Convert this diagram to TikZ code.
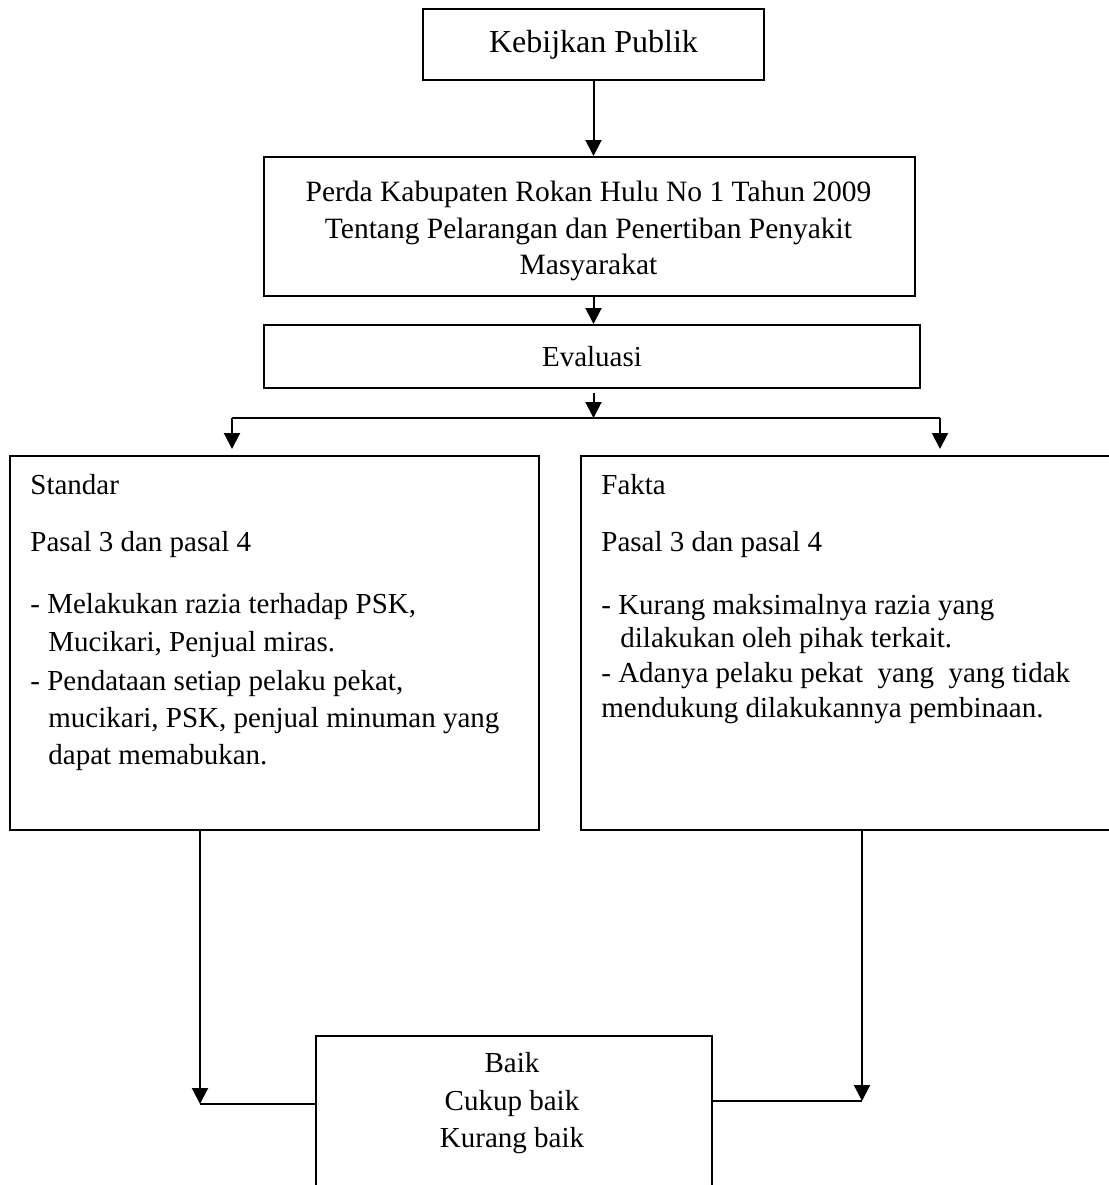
\documentclass[tikz,border=0pt]{standalone}
\usepackage{fontspec}
\setmainfont{Liberation Serif}
\usetikzlibrary{arrows.meta}
\begin{document}
\begin{tikzpicture}[x=0.5pt,y=-0.5pt,
  box/.style={draw, line width=1pt, inner sep=0pt, anchor=north west},
  txt/.style={font=\fontsize{14.5}{18}\selectfont, inner sep=0pt},
  conn/.style={line width=1pt},
  arr/.style={conn, -{Triangle[length=8pt,width=8pt]}}]
\useasboundingbox (0,0) rectangle (1109,1185);
\clip (0,0) rectangle (1109,1185);
% boxes
\node[box, minimum width=170.5pt, minimum height=35.5pt, font=\fontsize{16}{19}\selectfont] (kp) at (422,8) {Kebijkan Publik};
\node[box, minimum width=325.5pt, minimum height=69.5pt] (perda) at (263,156) {};
\node[txt, align=center, font=\fontsize{14.75}{18.25}\selectfont] (perdat) at (588.5,231) {Perda Kabupaten Rokan Hulu No 1 Tahun 2009\\Tentang Pelarangan dan Penertiban Penyakit\\Masyarakat};
\node[box, minimum width=328pt, minimum height=31.5pt, font=\fontsize{14.5}{18}\selectfont] (eval) at (263,324) {Evaluasi};
\node[box, minimum width=264.5pt, minimum height=187pt] (left) at (9,455) {};
\node[box, minimum width=275pt, minimum height=187pt] (right) at (580,455) {};
\node[box, minimum width=198pt, minimum height=82.5pt] (bot) at (315,1035) {};
% left text
\node[txt, anchor=mid west] (l1) at (30,490) {Standar};
\node[txt, anchor=mid west] (l2) at (30,547) {Pasal 3 dan pasal 4};
\node[txt, anchor=mid west] (l3) at (30,609) {- Melakukan razia terhadap PSK,};
\node[txt, anchor=mid west] (l4) at (48,647) {Mucikari, Penjual miras.};
\node[txt, anchor=mid west] (l5) at (30,686) {- Pendataan setiap pelaku pekat,};
\node[txt, anchor=mid west] (l6) at (48,723) {mucikari, PSK, penjual minuman yang};
\node[txt, anchor=mid west] (l7) at (48,760) {dapat memabukan.};
% right text
\node[txt, anchor=mid west] (r1) at (601,490) {Fakta};
\node[txt, anchor=mid west] (r2) at (601,547) {Pasal 3 dan pasal 4};
\node[txt, anchor=mid west] (r3) at (601,610) {- Kurang maksimalnya razia yang};
\node[txt, anchor=mid west] (r4) at (620,643) {dilakukan oleh pihak terkait.};
\node[txt, anchor=mid west] (r5) at (601,678) {- Adanya pelaku pekat\ \ yang\ \ yang tidak};
\node[txt, anchor=mid west] (r6) at (601,713) {mendukung dilakukannya pembinaan.};
% bottom text
\node[txt, anchor=mid] (b1) at (512,1068) {Baik};
\node[txt, anchor=mid] (b2) at (512,1106) {Cukup baik};
\node[txt, anchor=mid] (b3) at (512,1143) {Kurang baik};
% connectors
\coordinate (hl) at (232,418);
\coordinate (hr) at (940,418);
\coordinate (hm) at (kp.south |- hl);
\coordinate (cl) at (200,1104);
\coordinate (cr) at (862,1101);
\draw[arr] (kp.south) -- (kp.south |- perda.north);
\draw[arr] (kp.south |- perda.south) -- (kp.south |- eval.north);
\draw[arr, shorten <=2pt] (kp.south |- eval.south) -- (hm);
\draw[conn] (hl) -- (hr);
\draw[arr, shorten >=3pt] (hl) -- (hl |- left.north);
\draw[arr, shorten >=3pt] (hr) -- (hr |- right.north);
\draw[arr] (cl |- left.south) -- (cl);
\draw[conn] (cl) -- (cl -| bot.west);
\draw[arr] (cr |- right.south) -- (cr);
\draw[conn] (bot.east |- cr) -- (cr);
\end{tikzpicture}
\end{document}
